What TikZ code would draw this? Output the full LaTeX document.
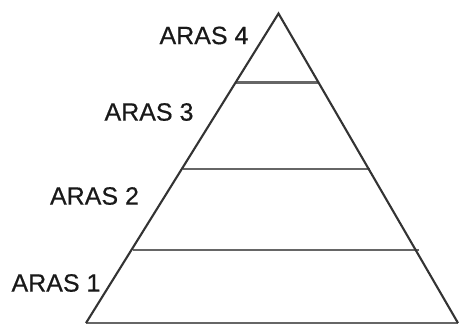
\documentclass[tikz,border=0pt]{standalone}
\usepackage{fontspec}
\setmainfont{Liberation Sans}[FakeBold=0.5]
\tikzset{
  edge/.style={draw=black!80, line width=2.1pt, line join=miter},
  layer/.style={draw=black!60, line width=2.4pt},
  lbl/.style={font=\fontsize{25}{28}\selectfont, text=black!90, inner sep=0pt, anchor=center}
}
\begin{document}
\begin{tikzpicture}[x=1pt,y=-1pt]
\useasboundingbox[fill=white] (0,0) rectangle (459,325);
\coordinate (apex) at (278.5,13.5);
\coordinate (bl) at (86,323);
\coordinate (br) at (458,323);
% layer lines
\coordinate (l1a) at (132.5,250); \coordinate (l1b) at (419,250);
\coordinate (l2a) at (182.5,169); \coordinate (l2b) at (370,169);
\coordinate (l3a) at (236,82.5); \coordinate (l3b) at (318,82.5);
\draw[layer] (l1a) -- (l1b);
\draw[layer] (l2a) -- (l2b);
\draw[layer] (l3a) -- (l3b);
\draw[layer] (bl) -- (br);
\draw[edge] (bl) -- (apex) -- (br);
\node[lbl] (a4) at (204,35.5) {ARAS 4};
\node[lbl] (a3) at (149,112) {ARAS 3};
\node[lbl] (a2) at (94.5,196) {ARAS 2};
\node[lbl] (a1) at (56,283) {ARAS 1};
\end{tikzpicture}
\end{document}
